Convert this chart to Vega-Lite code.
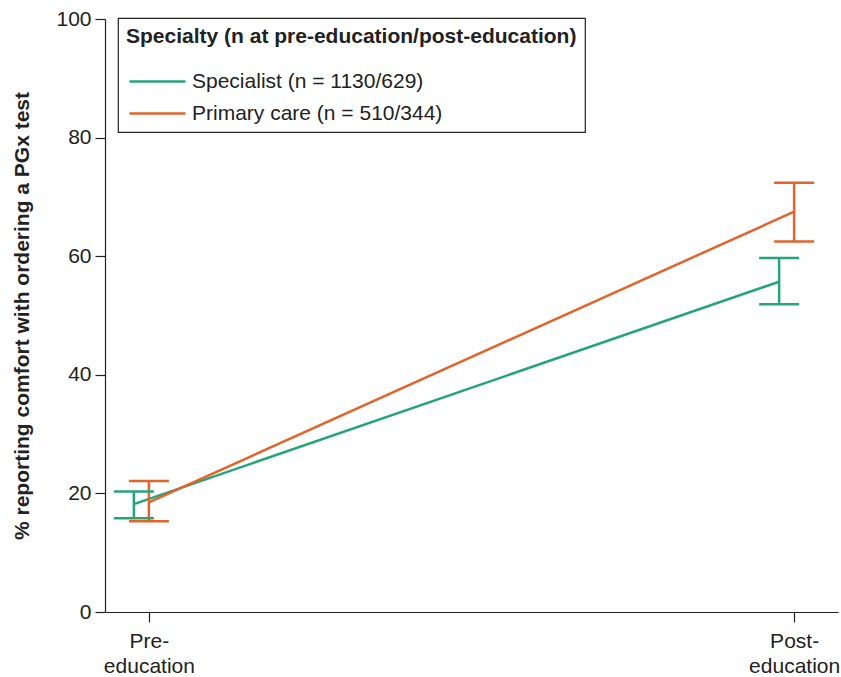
{
  "$schema": "https://vega.github.io/schema/vega-lite/v6.json",
  "width": 733,
  "height": 593,
  "autosize": "none",
  "padding": {"left": 105, "top": 19, "right": 3, "bottom": 65},
  "data": {
    "values": [
      {"time": "Pre-education", "group": "Specialist (n = 1130/629)", "mean": 18.2, "lo": 15.8, "hi": 20.3},
      {"time": "Pre-education", "group": "Primary care (n = 510/344)", "mean": 18.5, "lo": 15.3, "hi": 22.1},
      {"time": "Post-education", "group": "Specialist (n = 1130/629)", "mean": 55.7, "lo": 51.9, "hi": 59.7},
      {"time": "Post-education", "group": "Primary care (n = 510/344)", "mean": 67.5, "lo": 62.5, "hi": 72.4}
    ]
  },
  "encoding": {
    "x": {
      "field": "time",
      "type": "nominal",
      "sort": ["Pre-education", "Post-education"],
      "scale": {"type": "point", "padding": 0.068},
      "axis": {
        "title": null,
        "labelAngle": 0,
        "labelExpr": "datum.value == 'Pre-education' ? ['Pre-', 'education'] : ['Post-', 'education']",
        "labelLineHeight": 25,
        "labelPadding": 8
      }
    },
    "xOffset": {
      "field": "group",
      "type": "nominal",
      "scale": {"type": "point", "padding": 0, "domain": ["Specialist (n = 1130/629)", "Primary care (n = 510/344)"], "range": [-15, 0]}
    },
    "color": {
      "field": "group",
      "type": "nominal",
      "scale": {"domain": ["Specialist (n = 1130/629)", "Primary care (n = 510/344)"], "range": ["#25a47a", "#e2632b"]},
      "legend": {
        "title": "Specialty (n at pre-education/post-education)",
        "orient": "none",
        "legendX": 13,
        "legendY": -1,
        "direction": "vertical"
      }
    }
  },
  "layer": [
    {
      "mark": {"type": "line", "strokeWidth": 2.5},
      "encoding": {
        "y": {
          "field": "mean",
          "type": "quantitative",
          "scale": {"domain": [0, 100]},
          "axis": {"title": "% reporting comfort with ordering a PGx test", "values": [0, 20, 40, 60, 80, 100], "grid": false}
        }
      }
    },
    {
      "mark": {"type": "rule", "strokeWidth": 2.5},
      "encoding": {
        "y": {"field": "lo", "type": "quantitative"},
        "y2": {"field": "hi"}
      }
    },
    {
      "mark": {"type": "tick", "size": 40, "thickness": 2.5, "orient": "horizontal"},
      "encoding": {"y": {"field": "lo", "type": "quantitative"}}
    },
    {
      "mark": {"type": "tick", "size": 40, "thickness": 2.5, "orient": "horizontal"},
      "encoding": {"y": {"field": "hi", "type": "quantitative"}}
    }
  ],
  "config": {
    "font": "Liberation Sans",
    "view": {"stroke": null},
    "tick": {"opacity": 1},
    "axis": {
      "domainColor": "#222222",
      "domainWidth": 1.2,
      "tickColor": "#222222",
      "tickWidth": 1.2,
      "tickSize": 10,
      "labelFont": "Liberation Sans",
      "labelFontSize": 21,
      "labelColor": "#222222",
      "labelPadding": 4,
      "titleFont": "Liberation Sans",
      "titleFontSize": 21,
      "titleFontWeight": "bold",
      "titleColor": "#222222",
      "titlePadding": 23
    },
    "legend": {
      "strokeColor": "#222222",
      "strokeWidth": 1.2,
      "fillColor": "white",
      "padding": 8,
      "titleFont": "Liberation Sans",
      "titleFontSize": 21,
      "titleFontWeight": "bold",
      "titleColor": "#222222",
      "titlePadding": 23,
      "titleLimit": 1000,
      "labelFont": "Liberation Sans",
      "labelFontSize": 21,
      "labelColor": "#222222",
      "labelLimit": 1000,
      "labelOffset": 23,
      "symbolType": "M-2.8,0H2.8",
      "symbolSize": 400,
      "symbolStrokeWidth": 2.5,
      "symbolOffset": 20,
      "rowPadding": 10
    }
  }
}
